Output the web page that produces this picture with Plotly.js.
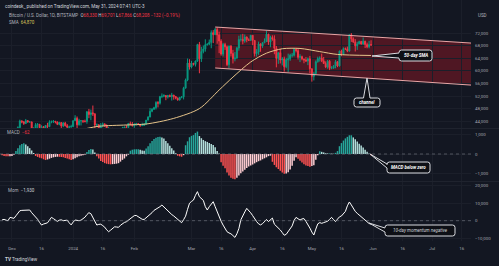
<!DOCTYPE html>
<html><head><meta charset="utf-8">
<script src="https://cdn.plot.ly/plotly-3.0.1.min.js"></script>
<style>html,body{margin:0;padding:0;background:#131722;}#c{width:499px;height:266px;}</style>
</head><body><div id="c"></div>
<script>
// ---- Price candles (thousand USD), daily from 2023-12-01 to 2024-05-31 ----
const candleStart = '2023-12-01';
const openK = [
 37.72,38.69,39.47,39.98,41.99,44.08,43.77,43.29,44.17,43.72,43.79,41.24,41.45,42.89,43.02,41.94,42.26,41.37,42.65,42.27,43.67,43.86,43.99,43.74,43.01,43.58,42.51,43.44,42.58,42.07,42.14,
 42.28,44.18,44.95,42.85,44.15,44.16,43.97,43.93,46.97,46.12,46.65,46.34,42.78,42.84,41.73,42.51,43.15,42.74,41.26,41.62,41.66,41.57,39.53,39.86,40.08,39.93,41.81,42.12,42.03,43.30,42.94,
 42.58,43.08,43.19,43.00,42.58,42.66,43.09,44.34,45.30,47.15,47.77,48.29,49.96,49.70,51.81,51.93,52.16,51.66,52.12,51.78,52.28,51.85,51.32,50.73,51.57,51.73,54.48,57.07,62.50,
 61.18,62.40,62.03,63.12,68.33,63.80,66.10,66.93,68.30,68.50,69.02,72.12,71.48,73.10,71.40,69.44,65.30,68.39,67.61,61.93,67.84,65.50,63.80,64.05,67.23,69.95,69.99,69.47,70.74,69.87,69.64,
 71.29,69.65,65.47,65.96,68.51,67.84,68.90,69.36,71.62,69.14,70.59,70.06,67.16,63.93,65.74,63.42,63.79,61.28,63.47,63.82,64.94,64.94,66.84,66.41,64.29,64.50,63.77,63.46,63.12,63.84,
 60.64,58.25,59.12,62.89,63.89,64.03,63.16,62.33,61.19,63.05,60.79,60.82,61.45,62.90,61.55,66.25,65.23,67.04,66.92,66.27,71.45,70.14,69.12,67.93,68.53,69.29,68.51,69.40,68.33,67.61,68.33];
const highK = [
 38.95,39.68,40.18,42.37,44.49,44.30,44.05,44.71,44.36,44.04,43.80,42.10,43.43,43.41,43.09,42.71,42.43,42.74,43.49,44.28,44.22,44.38,44.02,43.93,43.80,43.60,43.68,43.80,43.12,42.60,42.88,
 44.19,45.90,45.50,44.77,44.34,44.21,44.50,47.24,47.89,47.70,48.97,46.52,43.26,43.07,43.40,43.57,43.20,42.93,42.17,41.86,41.88,41.68,40.13,40.53,40.27,42.21,42.20,42.84,43.31,43.88,43.74,
 43.29,43.49,43.38,43.12,43.53,43.40,44.37,45.59,48.17,48.15,48.58,50.33,50.37,52.04,52.82,52.57,52.19,52.35,52.49,52.99,52.37,52.02,51.53,51.69,51.95,54.92,57.54,63.90,63.68,
 63.15,62.43,63.23,68.56,69.17,67.63,68.03,69.99,68.62,69.92,72.85,72.93,73.64,73.78,72.42,70.03,68.88,68.90,68.12,68.10,68.20,66.65,65.97,67.62,71.15,71.53,71.74,71.55,70.89,70.30,71.35,
 71.30,69.65,66.90,69.28,68.72,69.06,70.30,72.72,71.75,71.15,71.26,71.25,67.89,65.85,66.89,64.36,64.50,64.12,65.45,65.42,65.67,67.18,67.21,67.09,65.27,64.80,63.91,64.35,64.23,64.73,
 60.78,59.60,63.31,64.49,64.60,65.45,64.39,62.98,63.43,63.44,61.47,61.83,63.41,63.06,66.42,66.71,67.43,67.39,67.68,71.49,71.96,70.63,70.05,69.22,69.56,69.52,70.59,69.52,68.93,69.51,69.70];
const lowK = [
 37.60,38.65,39.28,39.97,41.42,43.33,42.82,43.09,43.59,43.58,40.22,40.68,40.68,41.43,41.69,41.69,41.26,40.53,41.82,42.20,43.33,43.41,43.30,42.76,42.72,41.66,42.10,42.32,41.32,41.52,41.98,
 42.19,44.18,40.75,42.62,42.65,43.44,43.60,43.20,44.95,44.30,45.65,41.75,42.43,41.72,41.73,42.07,42.19,40.66,40.27,41.42,41.50,39.47,38.56,39.48,39.52,39.82,41.39,41.62,41.81,42.68,42.30,
 41.88,42.58,42.89,42.25,42.57,42.61,42.79,44.33,45.30,46.85,47.64,47.72,48.37,49.27,51.33,51.60,50.67,51.20,51.69,50.55,50.83,50.95,50.53,50.58,51.28,50.90,54.45,56.70,60.38,
 60.78,61.67,61.36,62.82,59.22,62.80,65.55,66.08,67.99,68.14,67.16,68.80,71.34,68.60,65.60,64.80,64.56,66.63,61.56,60.76,64.57,62.33,63.00,63.80,66.40,69.30,68.40,68.90,69.06,69.57,69.61,
 68.14,64.55,64.50,65.07,66.04,67.28,68.80,69.12,68.24,67.48,69.56,65.26,61.10,62.20,62.33,61.70,59.77,60.83,59.62,63.17,64.25,64.54,65.84,63.59,62.78,63.32,62.40,62.83,61.80,59.19,
 56.56,56.94,58.83,62.59,62.92,62.77,62.17,60.85,60.66,60.23,60.52,60.68,60.79,61.16,61.35,64.63,65.12,66.63,65.92,66.06,69.17,68.91,66.14,66.63,68.52,68.28,68.25,67.24,67.14,67.14,67.87];
const closeK = [
 38.69,39.47,39.98,41.99,44.08,43.77,43.29,44.17,43.72,43.79,41.24,41.45,42.89,43.02,41.94,42.26,41.37,42.65,42.27,43.67,43.86,43.99,43.74,43.01,43.58,42.51,43.44,42.58,42.07,42.14,42.28,
 44.18,44.95,42.85,44.15,44.16,43.97,43.93,46.97,46.12,46.65,46.34,42.78,42.84,41.73,42.51,43.15,42.74,41.26,41.62,41.66,41.57,39.53,39.86,40.08,39.93,41.81,42.12,42.03,43.30,42.94,42.58,
 43.08,43.19,43.00,42.58,42.66,43.09,44.34,45.30,47.15,47.77,48.29,49.96,49.70,51.81,51.93,52.16,51.66,52.12,51.78,52.28,51.85,51.32,50.73,51.57,51.73,54.48,57.07,62.50,61.18,
 62.40,62.03,63.12,68.33,63.80,66.10,66.93,68.30,68.50,69.02,72.12,71.48,73.10,71.40,69.44,65.30,68.39,67.61,61.93,67.84,65.50,63.80,64.05,67.23,69.95,69.99,69.47,70.74,69.87,69.64,71.29,
 69.65,65.47,65.96,68.51,67.84,68.90,69.36,71.62,69.14,70.59,70.06,67.16,63.93,65.74,63.42,63.79,61.28,63.47,63.82,64.94,64.94,66.84,66.41,64.29,64.50,63.77,63.46,63.12,63.84,60.64,
 58.25,59.12,62.89,63.89,64.03,63.16,62.33,61.19,63.05,60.79,60.82,61.45,62.90,61.55,66.25,65.23,67.04,66.92,66.27,71.45,70.14,69.12,67.93,68.53,69.29,68.51,69.40,68.33,67.61,68.33,68.21];

// ---- 50-day SMA (thousand USD) ----
const smaDates = ['2024-01-08','2024-01-14','2024-01-28','2024-02-07','2024-02-21','2024-03-05','2024-03-15','2024-03-22','2024-03-31','2024-04-08','2024-04-16','2024-04-25','2024-05-05','2024-05-14','2024-05-31'];
const smaVals  = [41.7,42.4,42.8,43.1,44.9,48.0,53.9,58.0,62.8,65.6,67.0,67.1,66.1,65.2,64.87];

// ---- Indicators, daily from 2023-11-26 to 2024-05-31 ----
const indStart = '2023-11-26';
const macdHist = [
 -60,-100,-110,-120,-110,-100,-40,150,300,450,
 510,550,490,400,300,180,50,-100,-150,-190,
 -220,-270,-310,-280,-240,-200,-170,-150,-140,-145,
 -155,-170,-200,-230,-270,-310,-270,-220,-170,-110,
 -90,-60,-35,100,200,260,230,80,-120,-230,
 -360,-410,-470,-500,-520,-530,-520,-510,-495,-470,
 -390,-300,-230,-120,-40,170,220,240,240,240,
 215,185,170,280,400,550,670,770,830,870,
 890,850,790,670,550,420,300,180,40,-90,
 -120,-140,-60,450,650,860,930,970,1080,1150,
 920,810,720,660,620,560,510,460,350,150,
 30,-420,-600,-730,-950,-1100,-1220,-1270,-1300,-1220,
 -1100,-990,-900,-810,-720,-640,-590,-540,-480,-420,
 -370,-330,-270,-220,-170,-110,-85,-400,-560,-680,
 -770,-860,-950,-1010,-1000,-940,-800,-600,-350,-170,
 -250,-340,-440,-530,-590,-620,-650,-620,-580,-300,
 -60,140,110,80,40,30,30,20,15,60,
 150,400,560,690,800,880,960,960,850,750,
 640,530,430,330,220,110,20,-62];
const momentum = [
 500,760,300,0,1900,1600,1330,2800,4300,5700,
 5900,6000,6100,6100,6100,4570,3300,2300,800,-1000,
 -2480,-1900,-1500,-1200,300,1900,1200,600,-400,300,
 500,0,200,300,-1200,-2400,-800,380,200,0,
 300,1200,2000,3500,4570,4000,1500,-800,-2480,-2100,
 -2000,-2800,-3700,-5200,-6290,-5400,-4500,-3500,-3600,-3800,
 -2600,-1700,-1000,-600,300,1300,2100,2900,3000,2300,
 1900,800,700,1700,2400,3240,4600,5900,6500,7000,
 8000,8950,7800,6700,5500,4300,3500,2700,1800,700,
 -300,-1140,600,2600,6500,10000,11000,11800,14500,16600,
 13700,12800,11600,8000,6100,8000,9500,10860,8000,5000,
 1500,-300,-2500,-4500,-6300,-7000,-7500,-8500,-9530,-7500,
 -4500,500,3240,5000,7050,6000,4500,2900,1000,-500,
 -1800,-2400,-1700,-500,700,-500,800,1500,-2000,-3000,
 -3810,-5300,-6800,-8300,-7800,-6300,-4800,-3000,200,1900,
 1100,400,1000,1200,-400,-2000,-4200,-6500,-8190,-4800,
 -1800,-1100,-1500,-1100,-800,-300,800,1900,600,-500,
 900,2200,2700,4000,5300,8500,10700,9000,7000,5300,
 4200,3200,2300,1400,400,-800,-1600,-1930];

// ---- Channel drawing (date, thousand USD) ----
const channelDates = ['2024-03-13','2024-07-21'];
const channelTop = [73.9,68.8];
const channelBottom = [60.9,55.45];

// ---- Axis ticks ----
const xTickVals = ['2023-12-01','2023-12-16','2024-01-01','2024-01-16','2024-02-01','2024-03-01','2024-03-16','2024-04-01','2024-04-16','2024-05-01','2024-05-16','2024-06-01','2024-06-16','2024-07-01','2024-07-16'];
const xTickText = ['Dec','16','2024','16','Feb','Mar','16','Apr','16','May','16','Jun','16','Jul','16'];
const priceTickVals = [44,48,52,56,60,64,68,72];
const priceTickText = ['44,000','48,000','52,000','56,000','60,000','64,000','68,000','72,000'];
const macdTickVals = [-1000,0,1000];
const macdTickText = ['\u22121,000','0','1,000'];
const momTickVals = [-10000,0,10000,20000];
const momTickText = ['\u221210,000','0','10,000','20,000'];

function dayList(start, n){
  const t0 = Date.parse(start+'T00:00:00Z'); const out=[];
  for(let i=0;i<n;i++){ out.push(new Date(t0+i*864e5).toISOString().slice(0,10)); }
  return out;
}
const cDates = dayList(candleStart, closeK.length);
const iDates = dayList(indStart, macdHist.length);

const UP='#089981', DN='#f23645';
const macdColors = macdHist.map((v,i)=>{
  const p = i>0 ? macdHist[i-1] : v;
  if(v>=0) return v>=p ? '#26a69a' : '#b2dfdb';
  return v<=p ? '#ff5252' : '#ffcdd2';
});

const traces = [
 {type:'candlestick', x:cDates, open:openK, high:highK, low:lowK, close:closeK, xaxis:'x', yaxis:'y',
  increasing:{line:{color:UP,width:1},fillcolor:UP}, decreasing:{line:{color:DN,width:1},fillcolor:DN},
  whiskerwidth:0, hoverinfo:'skip'},
 {type:'scatter', mode:'lines', x:smaDates, y:smaVals, xaxis:'x', yaxis:'y',
  line:{color:'#e6c48a', width:1, shape:'spline', smoothing:0.8}, hoverinfo:'skip'},
 {type:'bar', x:iDates, y:macdHist, xaxis:'x', yaxis:'y2', marker:{color:macdColors, line:{width:0}}, hoverinfo:'skip'},
 {type:'scatter', mode:'lines', x:iDates, y:momentum, xaxis:'x', yaxis:'y3', line:{color:'#ffffff', width:1}, hoverinfo:'skip'}
];

const PW=471, PH=241;
const px = x => x/PW, py = y => 1 - y/PH;
const P = (x,y) => px(x)+','+py(y);

function calloutPath(x0,y0,x1,y1,side,a,b,tx,ty){
  const r=2.5;
  let d = 'M'+P(x0+r,y0);
  if(side==='top'){ d += ' L'+P(a,y0)+' L'+P(tx,ty)+' L'+P(b,y0); }
  d += ' L'+P(x1-r,y0)+' Q'+P(x1,y0)+' '+P(x1,y0+r);
  d += ' L'+P(x1,y1-r)+' Q'+P(x1,y1)+' '+P(x1-r,y1);
  d += ' L'+P(x0+r,y1)+' Q'+P(x0,y1)+' '+P(x0,y1-r);
  if(side==='left'){ d += ' L'+P(x0,b)+' L'+P(tx,ty)+' L'+P(x0,a); }
  d += ' L'+P(x0,y0+r)+' Q'+P(x0,y0)+' '+P(x0+r,y0)+' Z';
  return {type:'path', xref:'paper', yref:'paper', path:d, fillcolor:'#0e1016', line:{color:'#d9dbe0', width:1}, layer:'above'};
}

const shapes = [
 {type:'path', xref:'x', yref:'y', layer:'below',
  path:'M'+channelDates[0]+','+channelTop[0]+' L'+channelDates[1]+','+channelTop[1]+' L'+channelDates[1]+','+channelBottom[1]+' L'+channelDates[0]+','+channelBottom[0]+' Z',
  fillcolor:'rgba(122,24,36,0.58)', line:{width:0}},
 {type:'line', xref:'x', yref:'y', layer:'above', x0:channelDates[0], y0:channelTop[0], x1:channelDates[1], y1:channelTop[1], line:{color:'#e8a6a6', width:1}},
 {type:'line', xref:'x', yref:'y', layer:'above', x0:channelDates[0], y0:channelBottom[0], x1:channelDates[1], y1:channelBottom[1], line:{color:'#e8a6a6', width:1}},
 {type:'line', xref:'paper', yref:'y2', x0:0, x1:1, y0:0, y1:0, line:{color:'rgba(120,123,134,0.6)', width:1, dash:'dot'}},
 {type:'line', xref:'paper', yref:'y3', x0:0, x1:1, y0:0, y1:0, line:{color:'rgba(120,123,134,0.6)', width:1, dash:'dot'}},
 {type:'line', xref:'paper', yref:'paper', x0:0, x1:499/PW, y0:py(128.5), y1:py(128.5), line:{color:'#1f232e', width:1}},
 {type:'line', xref:'paper', yref:'paper', x0:0, x1:499/PW, y0:py(181.5), y1:py(181.5), line:{color:'#1f232e', width:1}},
 calloutPath(399,50,432,61,'left',53,58,372,56),
 calloutPath(354,98,380,107,'top',363.5,370,367,78),
 calloutPath(387,162,430,173,'left',164,168,370,154),
 calloutPath(385,225,455,236,'left',228,232,369,223)
];

const F = 'Roboto, "Liberation Sans", sans-serif';
const ann = (x,y,text,opt={}) => Object.assign({xref:'paper', yref:'paper', x:px(x), y:py(y), xanchor:'left', yanchor:'middle', showarrow:false, text:text, font:{family:F, size:4.5, color:'#d1d4dc'}}, opt);
const red = s => '<span style="color:#f23645">'+s+'</span>';
const annotations = [
 ann(3,6,'coindesk_ published on TradingView.com, May 31, 2024 07:41 UTC-3', {font:{family:F,size:4.6,color:'#d1d4dc'}}),
 ann(7,15.5,'<span style="color:#b2b5be">Bitcoin / U.S. Dollar, 1D, BITSTAMP</span>  O'+red('68,330')+' H'+red('69,701')+' L'+red('67,866')+' C'+red('68,208')+' '+red('\u2212132 (\u22120.19%)')),
 ann(7,22,'<span style="color:#b2b5be">SMA</span>  <span style="color:#d6c25a">64,870</span>'),
 ann(476,16,'USD', {font:{family:F,size:4.5,color:'#b2b5be'}}),
 ann(5,132,'<span style="color:#b2b5be">MACD</span>  '+red('\u221262')),
 ann(6,190.5,'<span style="color:#b2b5be">Mom</span>  <span style="color:#d1d4dc">\u22121,930</span>'),
 ann(3,259,'<b>TV</b> TradingView', {font:{family:F,size:4.6,color:'#d1d4dc'}}),
 ann(415.5,55.5,'<b><i>50-day SMA</i></b>', {xanchor:'center', font:{family:F,size:4.5,color:'#ffffff'}}),
 ann(367,102.5,'<b><i>channel</i></b>', {xanchor:'center', font:{family:F,size:4.5,color:'#ffffff'}}),
 ann(408.5,167.5,'<b><i>MACD below zero</i></b>', {xanchor:'center', font:{family:F,size:4.5,color:'#ffffff'}}),
 ann(420,230.5,'<i>10-day momentum negative</i>', {xanchor:'center', font:{family:F,size:4.5,color:'#d1d4dc'}})
];

const G = '#1b1f2a';
const yCommon = {side:'right', anchor:'x', showgrid:true, gridcolor:G, gridwidth:1, zeroline:false, ticks:'', showline:false,
  ticklabelstandoff:3, tickfont:{family:F, size:4.4, color:'#a3a6af'}, fixedrange:true};
const layout = {
  width:499, height:266, margin:{l:0, r:28, t:0, b:25},
  paper_bgcolor:'#131722', plot_bgcolor:'#131722', showlegend:false, bargap:0.25,
  font:{family:F, size:4.4, color:'#a3a6af'},
  xaxis:{type:'date', anchor:'y3', domain:[0,1], range:['2023-11-24 22:28','2024-07-20 15:50'],
    rangeslider:{visible:false}, showgrid:true, gridcolor:G, gridwidth:1, tickmode:'array', tickvals:xTickVals, ticktext:xTickText,
    ticks:'', ticklabelstandoff:4, tickfont:{family:F, size:4.4, color:'#a3a6af'}, showline:false, zeroline:false, fixedrange:true},
  yaxis:Object.assign({}, yCommon, {domain:[1-128/PH, 1], range:[41.84, 82.48], tickmode:'array', tickvals:priceTickVals, ticktext:priceTickText}),
  yaxis2:Object.assign({}, yCommon, {domain:[1-181/PH, 1-129/PH], range:[-1385, 1282], tickmode:'array', tickvals:macdTickVals, ticktext:macdTickText}),
  yaxis3:Object.assign({}, yCommon, {domain:[0, 1-182/PH], range:[-11600, 22114], tickmode:'array', tickvals:momTickVals, ticktext:momTickText}),
  shapes:shapes, annotations:annotations
};
Plotly.newPlot('c', traces, layout, {staticPlot:true, displayModeBar:false});
</script></body></html>
